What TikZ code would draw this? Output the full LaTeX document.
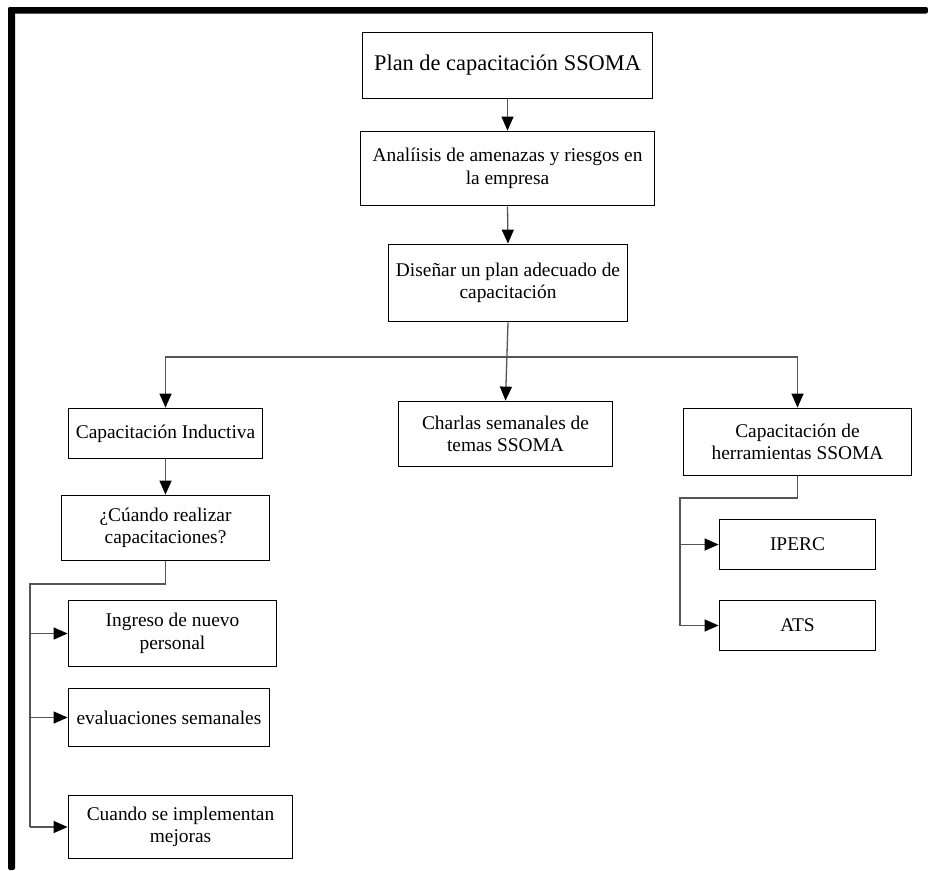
\documentclass[tikz,border=0pt]{standalone}
\usepackage{fontspec}
\setmainfont{Liberation Serif}
\usetikzlibrary{arrows.meta}
\begin{document}
\begin{tikzpicture}[x=1pt,y=-1pt,
  box/.style={draw=black, line width=1.8pt, fill=white, inner sep=0pt,
    align=center, font=\fontsize{19.4}{22.5}\selectfont},
  link/.style={draw={rgb,255:red,85;green,85;blue,85}, line width=1.3pt},
  arr/.style={link, -{Triangle[length=14pt,width=12pt,color=black]}},
  frame/.style={fill=black, draw=none}
]
\useasboundingbox[fill=white] (0,0) rectangle (928,870);

% page frame (top and left rules)
\fill[frame, rounded corners=2pt] (8,7) rectangle (928,13.5);
\fill[frame, rounded corners=2pt] (8,7) rectangle (15,870);

% boxes
\node[box, minimum width=290pt, minimum height=66pt,
  font=\fontsize{22.4}{26}\selectfont] (plan) at (507.5,65.5)
  {Plan de capacitación SSOMA};
\node[box, minimum width=294pt, minimum height=74pt] (anal) at (507.5,168.5)
  {Analíisis de amenazas y riesgos en\\la empresa};
\node[box, minimum width=239pt, minimum height=77pt] (dise) at (508,283)
  {Diseñar un plan adecuado de\\capacitación};
\node[box, minimum width=194pt, minimum height=50pt] (ind) at (165.5,433.5)
  {Capacitación Inductiva};
\node[box, minimum width=214pt, minimum height=65pt] (cha) at (505.5,434)
  {Charlas semanales de\\temas SSOMA};
\node[box, minimum width=228pt, minimum height=67pt] (herr) at (797.5,442)
  {Capacitación de\\herramientas SSOMA};
\node[box, minimum width=208pt, minimum height=65pt] (cuan) at (165.5,528)
  {¿Cúando realizar\\capacitaciones?};
\node[box, minimum width=208pt, minimum height=66pt] (ing) at (172.5,633.5)
  {Ingreso de nuevo\\personal};
\node[box, minimum width=201pt, minimum height=58pt] (eva) at (169,717.5)
  {evaluaciones semanales};
\node[box, minimum width=224pt, minimum height=63pt] (mej) at (180.5,827)
  {Cuando se implementan\\mejoras};
\node[box, minimum width=156pt, minimum height=50pt] (ipe) at (797.5,544.5)
  {IPERC};
\node[box, minimum width=156pt, minimum height=50pt] (ats) at (797.5,625.5)
  {ATS};

% main chain
\draw[arr] (plan.south) -- (anal.north);
\draw[arr] (anal.south) -- (dise.north);
\draw[arr] (dise.south) -- (cha.north);

% distribution bar
\coordinate (split) at (508,357);
\draw[arr] (split) -| (ind.north);
\draw[arr] (split) -| (herr.north);

% left branch
\draw[arr] (ind.south) -- (cuan.north);
\coordinate (lbus) at (30,584);
\draw[link] (cuan.south) |- (lbus) -- (lbus |- mej.west);
\draw[arr] (lbus |- ing.west) -- (ing.west);
\draw[arr] (lbus |- eva.west) -- (eva.west);
\draw[arr] (lbus |- mej.west) -- (mej.west);

% right branch
\coordinate (rbus) at (680,498);
\draw[link] (herr.south) |- (rbus) -- (rbus |- ats.west);
\draw[arr] (rbus |- ipe.west) -- (ipe.west);
\draw[arr] (rbus |- ats.west) -- (ats.west);
\end{tikzpicture}
\end{document}
